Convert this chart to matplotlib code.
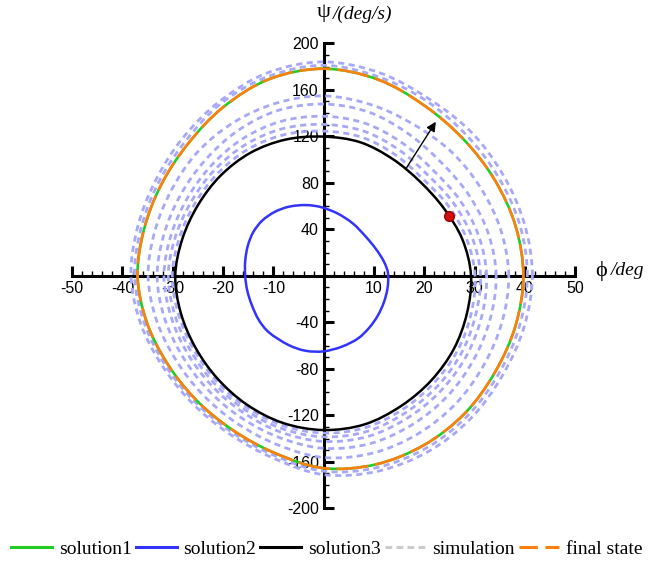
import numpy as np
import matplotlib
matplotlib.use("Agg")
import matplotlib.pyplot as plt
from matplotlib.lines import Line2D
from matplotlib.path import Path
from matplotlib.patches import PathPatch

plt.rcParams['font.family'] = ['Liberation Sans', 'DejaVu Sans']
plt.rcParams['axes.unicode_minus'] = False

# solution2 (inner limit cycle)
sol2_phi = [12.8, 12.0, 10.4, 8.3, 5.8, 2.8, -0.5, -3.5, -6.8, -9.7, -12.2, -14.0, -15.1, -15.6,
            -15.6, -15.2, -14.3, -12.9, -10.8, -7.0, -3.6, 0.0, 3.6, 6.8, 9.1, 10.8, 12.0, 12.7]
sol2_psi = [2, 12, 23, 34, 45, 53.5, 59, 60.8, 59.5, 55, 47.5, 37.5, 25.5, 12.5,
            0, -12.5, -25, -38, -49, -59.5, -64.5, -65, -61.0, -54, -44.5, -34, -22.5, -10.5]

# solution3
sol3_phi = [29.3, 27.6, 23.9, 19.2, 13.8, 7.3, 0, -7.5, -14.55, -20.5, -25.0, -28.1,
            -29.5, -28.4, -25.5, -21.1, -15.25, -8.1, 0, 8.15, 15.4, 21.4, 25.9, 28.5]
sol3_psi = [0, 31.1, 58.0, 80.8, 100.2, 114.8, 119.7, 117.2, 105.8, 86.1, 60.7, 31.6,
            0, -32.0, -61.7, -88.5, -110.9, -126.6, -132.7, -127.8, -112.0, -90.0, -62.8, -32.1]

# solution1 / final state (outer cycle)
sol1_phi = [39.7, 38.15, 34.0, 27.9, 20.1, 10.8, 0, -10.8, -19.95, -27.0, -32.3, -35.7,
            -37.0, -35.2, -31.1, -25.4, -18.2, -9.7, 0, 10.35, 20.0, 28.1, 34.1, 38.15]
sol1_psi = [0, 42.9, 82.5, 117.0, 146.2, 168.8, 178.1, 169.2, 145.1, 113.4, 78.3, 40.2,
            0, -39.6, -75.4, -106.6, -132.4, -152.5, -165.5, -162.3, -145.5, -118.2, -82.7, -42.9]
final_phi = sol1_phi
final_psi = sol1_psi

# simulation loops (inner to outer)
sim_phi = [
    [30.1, 28.4, 24.8, 19.8, 14.3, 7.6, 0, -7.8, -15.0, -21.0, -25.6, -28.7,
     -30.1, -28.9, -25.9, -21.4, -15.5, -8.2, 0, 8.3, 15.8, 21.9, 26.6, 29.3],
    [31.2, 29.5, 25.8, 20.7, 14.9, 7.9, 0, -8.1, -15.5, -21.7, -26.3, -29.5,
     -30.9, -29.6, -26.5, -21.9, -15.8, -8.4, 0, 8.55, 16.2, 22.6, 27.4, 30.2],
    [32.4, 30.8, 27.0, 21.7, 15.7, 8.35, 0, -8.5, -16.2, -22.45, -27.2, -30.4,
     -31.75, -30.4, -27.2, -22.4, -16.1, -8.6, 0, 8.8, 16.8, 23.4, 28.4, 31.4],
    [34.3, 32.7, 28.8, 23.3, 16.8, 9.0, 0, -9.1, -17.1, -23.6, -28.5, -31.75,
     -33.1, -31.7, -28.2, -23.2, -16.7, -8.9, 0, 9.2, 17.6, 24.6, 29.8, 33.1],
    [36.8, 35.2, 31.2, 25.4, 17.9, 9.4, 0, -9.5, -18.1, -25.2, -30.3, -33.6,
     -34.9, -33.3, -29.5, -24.2, -17.4, -9.25, 0, 9.7, 18.7, 26.2, 31.8, 35.45],
    [40.5, 39.0, 34.8, 28.6, 20.6, 11.0, 0, -11.0, -20.4, -27.5, -32.9, -36.3,
     -37.6, -35.7, -31.55, -25.7, -18.4, -9.8, 0, 10.5, 20.4, 28.6, 34.8, 38.9],
    [41.5, 39.9, 35.7, 29.4, 21.0, 11.2, 0, -11.2, -20.7, -28.1, -33.5, -37.0,
     -38.3, -36.4, -32.05, -26.1, -18.7, -10.0, 0, 10.7, 20.8, 29.2, 35.5, 39.8],
]
sim_psi = [
    [0, 32.0, 60.1, 83.0, 103.9, 119.1, 124.4, 121.4, 108.9, 88.3, 62.1, 32.3,
     0, -32.6, -62.8, -90.0, -112.6, -128.7, -135.3, -130.6, -114.7, -92.3, -64.4, -33.0],
    [0, 33.2, 62.6, 86.7, 108.5, 124.5, 130.2, 126.6, 112.9, 91.0, 63.9, 33.2,
     0, -33.4, -64.2, -91.8, -114.8, -131.3, -138.6, -134.0, -118.0, -95.1, -66.4, -34.0],
    [0, 34.6, 65.5, 91.1, 114.0, 131.0, 137.2, 132.8, 117.6, 94.3, 66.0, 34.2,
     0, -34.3, -65.8, -93.9, -117.35, -134.4, -142.5, -138.2, -122.0, -98.5, -68.8, -35.3],
    [0, 36.8, 69.9, 97.8, 122.3, 140.7, 147.7, 142.2, 124.7, 99.2, 69.2, 35.7,
     0, -35.65, -68.3, -97.2, -121.2, -139.0, -148.4, -144.4, -128.1, -103.5, -72.35, -37.3],
    [0, 39.6, 75.7, 106.6, 130.1, 147.2, 154.7, 148.4, 131.35, 105.8, 73.4, 37.8,
     0, -37.5, -71.6, -101.5, -126.4, -145.25, -156.3, -152.6, -136.1, -110.3, -77.1, -39.9],
    [0, 43.8, 84.4, 120.0, 149.9, 171.0, 181.0, 171.5, 148.2, 115.6, 79.7, 40.9,
     0, -40.2, -76.5, -108.05, -134.1, -154.6, -168.1, -165.1, -148.2, -120.5, -84.3, -43.8],
    [0, 44.9, 86.6, 123.3, 152.0, 174.5, 184.0, 174.5, 150.0, 118.0, 81.3, 41.7,
     0, -40.9, -77.7, -109.7, -136.1, -156.9, -171.1, -168.2, -151.2, -123.0, -86.1, -44.7],
]

# initial state and arrow
start_phi, start_psi = 25.0, 51.7
arrow_from = (16.2, 91.0)
arrow_to = (22.6, 134.5)

x_ticks = [-50, -40, -30, -20, -10, 0, 10, 20, 30, 40, 50]
y_ticks = [-200, -160, -120, -80, -40, 0, 40, 80, 120, 160, 200]


def smooth_loop(xs, ys):
    # closed curve through the given points, drawn as cubic Bezier pieces (Catmull-Rom)
    p = np.column_stack([xs, ys]).astype(float)
    n = len(p)
    verts = [p[0]]
    codes = [Path.MOVETO]
    for i in range(n):
        p0, p1, p2, p3 = p[i - 1], p[i], p[(i + 1) % n], p[(i + 2) % n]
        verts += [p1 + (p2 - p0) / 6, p2 - (p3 - p1) / 6, p2]
        codes += [Path.CURVE4] * 3
    return Path(verts, codes)


def draw_loop(ax, xs, ys, **kw):
    ax.add_patch(PathPatch(smooth_loop(xs, ys), fill=False, capstyle='butt', **kw))


fig = plt.figure(figsize=(6.49, 5.64), dpi=100)
ax = fig.add_axes([0.1112, 0.0988, 0.775, 0.8245])

sim_color = '#a8a8f8'
for px, py in zip(sim_phi, sim_psi):
    draw_loop(ax, px, py, edgecolor=sim_color, lw=2.0, ls=(0, (2.2, 1.6)), zorder=2)

draw_loop(ax, sol1_phi, sol1_psi, edgecolor='#22cc22', lw=1.9, zorder=3)
draw_loop(ax, final_phi, final_psi, edgecolor='#ff7f0e', lw=1.9, ls=(0, (12, 2.5)), zorder=4)
draw_loop(ax, sol3_phi, sol3_psi, edgecolor='black', lw=1.8, zorder=5)
draw_loop(ax, sol2_phi, sol2_psi, edgecolor='#3333ff', lw=1.8, zorder=5)

ax.annotate('', xy=arrow_to, xytext=arrow_from,
            arrowprops=dict(arrowstyle='-|>', color='black', lw=1.0, mutation_scale=14),
            zorder=6)
ax.plot([start_phi], [start_psi], 'o', color='#d01010', mec='#a00000', ms=7, zorder=7)

ax.set_xlim(-50, 50)
ax.set_ylim(-200, 200)
for s in ['top', 'right']:
    ax.spines[s].set_visible(False)
ax.spines['left'].set_position('zero')
ax.spines['bottom'].set_position('zero')
for s in ['left', 'bottom']:
    ax.spines[s].set_linewidth(2.2)
    ax.spines[s].set_zorder(1)

ax.set_xticks(x_ticks)
ax.set_xticklabels([str(v) if v != 0 else '' for v in x_ticks])
ax.set_xticks(np.arange(-50, 51, 2), minor=True)
ax.set_yticks(y_ticks)
ax.set_yticklabels([str(v) if v != 0 else '' for v in y_ticks])
ax.set_yticks(np.arange(-200, 201, 10), minor=True)

ax.tick_params(axis='both', which='major', direction='in', length=7.5, width=2.2,
               labelsize=11.5, pad=3.5)
ax.tick_params(axis='both', which='minor', direction='in', length=3.8, width=1.0)

# axis titles
fig.text(323.7 / 649, 1 - 13 / 564, 'ψ', ha='center', va='center', fontsize=16,
         family=['Liberation Serif', 'DejaVu Serif'])
fig.text(333 / 649, 1 - 14 / 564, '/(deg/s)', ha='left', va='center', fontsize=14,
         style='italic', family=['Liberation Serif', 'DejaVu Serif'])
fig.text(601 / 649, 1 - 271 / 564, 'ϕ', ha='center', va='center', fontsize=16,
         family=['Liberation Serif', 'DejaVu Serif'])
fig.text(611 / 649, 1 - 270 / 564, '/deg', ha='left', va='center', fontsize=14,
         style='italic', family=['Liberation Serif', 'DejaVu Serif'])

handles = [
    Line2D([], [], color='#22cc22', lw=2.2),
    Line2D([], [], color='#3333ff', lw=2.2),
    Line2D([], [], color='black', lw=2.2),
    Line2D([], [], color='#cccccc', lw=2.2, ls=(0, (2.2, 1.4))),
    Line2D([], [], color='#ff7f0e', lw=2.2, ls=(0, (6, 2.5))),
]
labels = ['solution1', 'solution2', 'solution3', 'simulation', 'final state']
fig.legend(handles, labels, loc='center', bbox_to_anchor=(0.504, 0.027), ncol=5,
           frameon=False, borderpad=0, handlelength=2.1, handletextpad=0.35,
           columnspacing=0.2, prop={'family': 'Liberation Serif', 'size': 14})

fig.savefig('out.png', dpi=100)
